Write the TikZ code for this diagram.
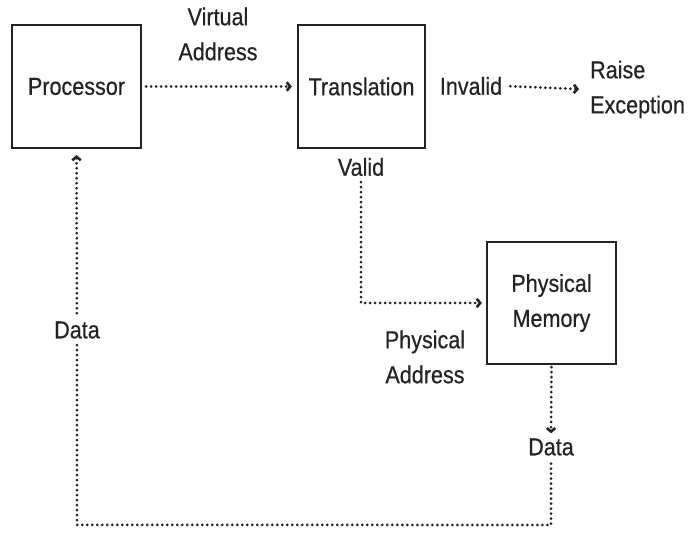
\documentclass[tikz,border=0pt]{standalone}
\usepackage{fontspec}
\setmainfont[FakeStretch=0.88, FakeBold=0.5]{Liberation Sans}
\usetikzlibrary{
    arrows.meta,
    positioning,
    calc
}
\definecolor{inkDark}{RGB}{35, 35, 35}
\definecolor{bgWhite}{RGB}{255, 255, 255}
\tikzset{
    unit/.style={
        rectangle,
        draw=inkDark,
        line width=2.2pt,
        fill=bgWhite,
        text=inkDark,
        align=center,
        font=\fontsize{24.5}{35}\selectfont,
        inner sep=0pt
    },
    caption/.style={
        text=inkDark,
        align=center,
        font=\fontsize{24.5}{35}\selectfont,
        inner sep=2pt
    },
    dotline/.style={
        draw=inkDark,
        line width=3pt,
        line cap=round,
        dash pattern=on 0pt off 5pt
    },
    dotarrow/.style={
        dotline,
        -{Straight Barb[length=3.5pt,width=8.5pt,line width=2.6pt,line cap=butt]}
    }
}

\begin{document}
\begin{tikzpicture}[x=1pt, y=1pt]
    \useasboundingbox (0,0) rectangle (694,545);
    \fill[bgWhite] (0,0) rectangle (694,545);

    % Boxes
    \node[unit, minimum width=129pt, minimum height=123pt] (proc) at (76.5, 458.5) {Processor};
    \node[unit, minimum width=127pt, minimum height=123pt] (trans) at (361.5, 458.5) {Translation};
    \node[unit, minimum width=129pt, minimum height=122pt] (mem) at (551.5, 242) {Physical\\Memory};

    % Labels
    \node[caption] (vaddr) at (218, 511) {Virtual\\Address};
    \node[caption] (invalid) at (471, 459) {Invalid};
    \node[caption, align=left, anchor=west] (raise) at (588, 455.5) {Raise\\Exception};
    \node[caption] (valid) at (361, 378) {Valid};
    \node[caption] (paddr) at (425, 188) {Physical\\Address};
    \node[caption] (memdata) at (551, 98) {Data};
    \node[caption] (procdata) at (77, 215) {Data};
    \coordinate (bottom) at (0, 20);

    % Connectors
    \draw[dotarrow, shorten <=4pt, shorten >=5pt] (proc.east) -- (trans.west);
    \draw[dotarrow, shorten <=6pt, shorten >=9pt] (invalid.east) -- (raise.west);
    \draw[dotarrow, shorten <=4pt, shorten >=4pt] (valid.south) |- (mem.west);
    \draw[dotarrow, shorten <=2pt, shorten >=3pt] (mem.south) -- (memdata.north);
    \draw[dotline, shorten <=6pt] (memdata.south) |- (bottom -| procdata) -- (procdata.south);
    \draw[dotarrow, shorten <=6pt, shorten >=6pt] (procdata.north) -- (proc.south);
\end{tikzpicture}
\end{document}
